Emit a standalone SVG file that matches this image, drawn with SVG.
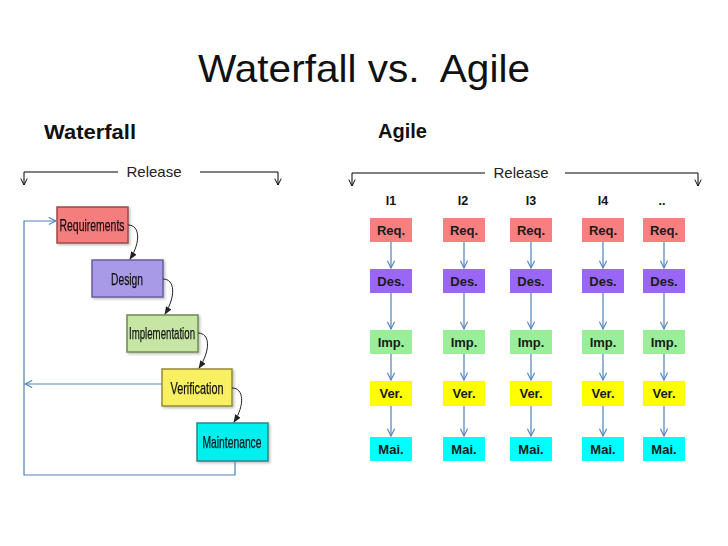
<svg xmlns="http://www.w3.org/2000/svg" width="728" height="546" viewBox="0 0 728 546">
<defs>
<style>
text{font-family:"Liberation Sans",Arial,sans-serif;fill:#111}
.title{font-size:39px;text-anchor:middle}
.head{font-size:20px;font-weight:bold}
.rel{font-size:15px;text-anchor:middle;fill:#222}
.it{font-size:12.5px;font-weight:bold;text-anchor:middle}
.wf{font-size:17px;text-anchor:middle;fill:#111;stroke:#111;stroke-width:0.25}
.ag{font-size:13px;font-weight:bold;text-anchor:middle;fill:#1a1a1a}
.blk{fill:none;stroke:#000;stroke-width:1}
.blue{fill:none;stroke:#4f81bd;stroke-width:1.2}
.crv{fill:none;stroke:#222;stroke-width:1}
.wbox{stroke-width:1.5}
</style>
<marker id="openBlk" viewBox="0 0 10 10" refX="9" refY="5" markerWidth="8" markerHeight="8" markerUnits="userSpaceOnUse" orient="auto">
<path d="M1,1 L9,5 L1,9" fill="none" stroke="#000" stroke-width="1.2"/>
</marker>
<marker id="openBlue" viewBox="0 0 10 10" refX="9" refY="5" markerWidth="9" markerHeight="9" markerUnits="userSpaceOnUse" orient="auto">
<path d="M1,1 L9,5 L1,9" fill="none" stroke="#4f81bd" stroke-width="1.2"/>
</marker>
<marker id="solid" viewBox="0 0 10 10" refX="9" refY="5" markerWidth="8" markerHeight="8" markerUnits="userSpaceOnUse" orient="auto">
<path d="M0,1 L10,5 L0,9 z" fill="#222"/>
</marker>
<filter id="sh" x="-10%" y="-10%" width="130%" height="130%">
<feDropShadow dx="1.5" dy="1.5" stdDeviation="1" flood-color="#000" flood-opacity="0.25"/>
</filter>
</defs>
<rect width="728" height="546" fill="#fff"/>

<text class="title" x="364" y="82" xml:space="preserve" textLength="332" lengthAdjust="spacingAndGlyphs">Waterfall vs.  Agile</text>
<text class="head" x="44" y="139" textLength="92" lengthAdjust="spacingAndGlyphs">Waterfall</text>
<text class="head" x="378" y="138" textLength="49" lengthAdjust="spacingAndGlyphs">Agile</text>

<!-- Release brackets -->
<g id="release-waterfall">
<text class="rel" x="154" y="177">Release</text>
<path class="blk" d="M118,172 L24,172 L24,185" marker-end="url(#openBlk)"/>
<path class="blk" d="M200,172 L278,172 L278,185" marker-end="url(#openBlk)"/>
</g>
<g id="release-agile">
<text class="rel" x="521" y="178">Release</text>
<path class="blk" d="M485,173 L352,173 L352,186" marker-end="url(#openBlk)"/>
<path class="blk" d="M565,173 L698,173 L698,186" marker-end="url(#openBlk)"/>
</g>

<!-- Waterfall nodes -->
<g id="wf-requirements" filter="url(#sh)">
<rect class="wbox" x="57" y="207" width="71" height="36" fill="#f47d7d" stroke="#9a4a4a"/>
<text class="wf" x="92" y="231" textLength="65" lengthAdjust="spacingAndGlyphs">Requirements</text>
</g>
<g id="wf-design" filter="url(#sh)">
<rect class="wbox" x="92" y="260" width="71" height="37" fill="#a99ae8" stroke="#6a5c9e"/>
<text class="wf" x="127" y="285" textLength="32" lengthAdjust="spacingAndGlyphs">Design</text>
</g>
<g id="wf-implementation" filter="url(#sh)">
<rect class="wbox" x="127" y="315" width="71" height="37" fill="#c7e6a6" stroke="#6e8a52"/>
<text class="wf" x="162" y="339" textLength="66" lengthAdjust="spacingAndGlyphs">Implementation</text>
</g>
<g id="wf-verification" filter="url(#sh)">
<rect class="wbox" x="162" y="369" width="70" height="37" fill="#f8f060" stroke="#948a36"/>
<text class="wf" x="197" y="394" textLength="53" lengthAdjust="spacingAndGlyphs">Verification</text>
</g>
<g id="wf-maintenance" filter="url(#sh)">
<rect class="wbox" x="197" y="423" width="71" height="38" fill="#00f0f0" stroke="#2f8686"/>
<text class="wf" x="232" y="448" textLength="59" lengthAdjust="spacingAndGlyphs">Maintenance</text>
</g>

<!-- Waterfall connectors -->
<g id="wf-connectors">
<path class="crv" d="M128,225 C140,225 141,242 130,259" marker-end="url(#solid)"/>
<path class="crv" d="M163,279 C175,279 176,296 165,314" marker-end="url(#solid)"/>
<path class="crv" d="M198,333 C210,333 211,350 199,368" marker-end="url(#solid)"/>
<path class="crv" d="M232,388 C244,388 245,405 234,422" marker-end="url(#solid)"/>
<path class="blue" d="M235,461 L235,475 L24,475 L24,221 L56,221" marker-end="url(#openBlue)"/>
<path class="blue" d="M162,384 L25,384" marker-end="url(#openBlue)"/>
</g>

<!-- Agile iteration headers -->
<g id="agile-headers">
<text class="it" x="391" y="205">I1</text>
<text class="it" x="463" y="205">I2</text>
<text class="it" x="531" y="205">I3</text>
<text class="it" x="603" y="205">I4</text>
<text class="it" x="662" y="205">..</text>
</g>

<!-- Agile nodes -->
<g id="ag1-req"><rect x="370" y="218" width="42" height="24" fill="#f87f7f"/><text class="ag" x="391" y="235">Req.</text></g>
<g id="ag1-des"><rect x="370" y="269" width="42" height="24" fill="#9966f5"/><text class="ag" x="391" y="286">Des.</text></g>
<g id="ag1-imp"><rect x="370" y="330" width="42" height="24" fill="#99ee99"/><text class="ag" x="391" y="347">Imp.</text></g>
<g id="ag1-ver"><rect x="370" y="381" width="42" height="25" fill="#ffff00"/><text class="ag" x="391" y="398">Ver.</text></g>
<g id="ag1-mai"><rect x="370" y="437" width="42" height="24" fill="#00ffff"/><text class="ag" x="391" y="454">Mai.</text></g>

<g id="ag2-req"><rect x="443" y="218" width="42" height="24" fill="#f87f7f"/><text class="ag" x="464" y="235">Req.</text></g>
<g id="ag2-des"><rect x="443" y="269" width="42" height="24" fill="#9966f5"/><text class="ag" x="464" y="286">Des.</text></g>
<g id="ag2-imp"><rect x="443" y="330" width="42" height="24" fill="#99ee99"/><text class="ag" x="464" y="347">Imp.</text></g>
<g id="ag2-ver"><rect x="443" y="381" width="42" height="25" fill="#ffff00"/><text class="ag" x="464" y="398">Ver.</text></g>
<g id="ag2-mai"><rect x="443" y="437" width="42" height="24" fill="#00ffff"/><text class="ag" x="464" y="454">Mai.</text></g>

<g id="ag3-req"><rect x="510" y="218" width="42" height="24" fill="#f87f7f"/><text class="ag" x="531" y="235">Req.</text></g>
<g id="ag3-des"><rect x="510" y="269" width="42" height="24" fill="#9966f5"/><text class="ag" x="531" y="286">Des.</text></g>
<g id="ag3-imp"><rect x="510" y="330" width="42" height="24" fill="#99ee99"/><text class="ag" x="531" y="347">Imp.</text></g>
<g id="ag3-ver"><rect x="510" y="381" width="42" height="25" fill="#ffff00"/><text class="ag" x="531" y="398">Ver.</text></g>
<g id="ag3-mai"><rect x="510" y="437" width="42" height="24" fill="#00ffff"/><text class="ag" x="531" y="454">Mai.</text></g>

<g id="ag4-req"><rect x="582" y="218" width="42" height="24" fill="#f87f7f"/><text class="ag" x="603" y="235">Req.</text></g>
<g id="ag4-des"><rect x="582" y="269" width="42" height="24" fill="#9966f5"/><text class="ag" x="603" y="286">Des.</text></g>
<g id="ag4-imp"><rect x="582" y="330" width="42" height="24" fill="#99ee99"/><text class="ag" x="603" y="347">Imp.</text></g>
<g id="ag4-ver"><rect x="582" y="381" width="42" height="25" fill="#ffff00"/><text class="ag" x="603" y="398">Ver.</text></g>
<g id="ag4-mai"><rect x="582" y="437" width="42" height="24" fill="#00ffff"/><text class="ag" x="603" y="454">Mai.</text></g>

<g id="ag5-req"><rect x="643" y="218" width="42" height="24" fill="#f87f7f"/><text class="ag" x="664" y="235">Req.</text></g>
<g id="ag5-des"><rect x="643" y="269" width="42" height="24" fill="#9966f5"/><text class="ag" x="664" y="286">Des.</text></g>
<g id="ag5-imp"><rect x="643" y="330" width="42" height="24" fill="#99ee99"/><text class="ag" x="664" y="347">Imp.</text></g>
<g id="ag5-ver"><rect x="643" y="381" width="42" height="25" fill="#ffff00"/><text class="ag" x="664" y="398">Ver.</text></g>
<g id="ag5-mai"><rect x="643" y="437" width="42" height="24" fill="#00ffff"/><text class="ag" x="664" y="454">Mai.</text></g>

<!-- Agile connectors -->
<g id="agile-connectors">
<path class="blue" d="M391,242 L391,268" marker-end="url(#openBlue)"/>
<path class="blue" d="M391,293 L391,329" marker-end="url(#openBlue)"/>
<path class="blue" d="M391,354 L391,380" marker-end="url(#openBlue)"/>
<path class="blue" d="M391,406 L391,436" marker-end="url(#openBlue)"/>
<path class="blue" d="M464,242 L464,268" marker-end="url(#openBlue)"/>
<path class="blue" d="M464,293 L464,329" marker-end="url(#openBlue)"/>
<path class="blue" d="M464,354 L464,380" marker-end="url(#openBlue)"/>
<path class="blue" d="M464,406 L464,436" marker-end="url(#openBlue)"/>
<path class="blue" d="M531,242 L531,268" marker-end="url(#openBlue)"/>
<path class="blue" d="M531,293 L531,329" marker-end="url(#openBlue)"/>
<path class="blue" d="M531,354 L531,380" marker-end="url(#openBlue)"/>
<path class="blue" d="M531,406 L531,436" marker-end="url(#openBlue)"/>
<path class="blue" d="M603,242 L603,268" marker-end="url(#openBlue)"/>
<path class="blue" d="M603,293 L603,329" marker-end="url(#openBlue)"/>
<path class="blue" d="M603,354 L603,380" marker-end="url(#openBlue)"/>
<path class="blue" d="M603,406 L603,436" marker-end="url(#openBlue)"/>
<path class="blue" d="M664,242 L664,268" marker-end="url(#openBlue)"/>
<path class="blue" d="M664,293 L664,329" marker-end="url(#openBlue)"/>
<path class="blue" d="M664,354 L664,380" marker-end="url(#openBlue)"/>
<path class="blue" d="M664,406 L664,436" marker-end="url(#openBlue)"/>
</g>
</svg>
